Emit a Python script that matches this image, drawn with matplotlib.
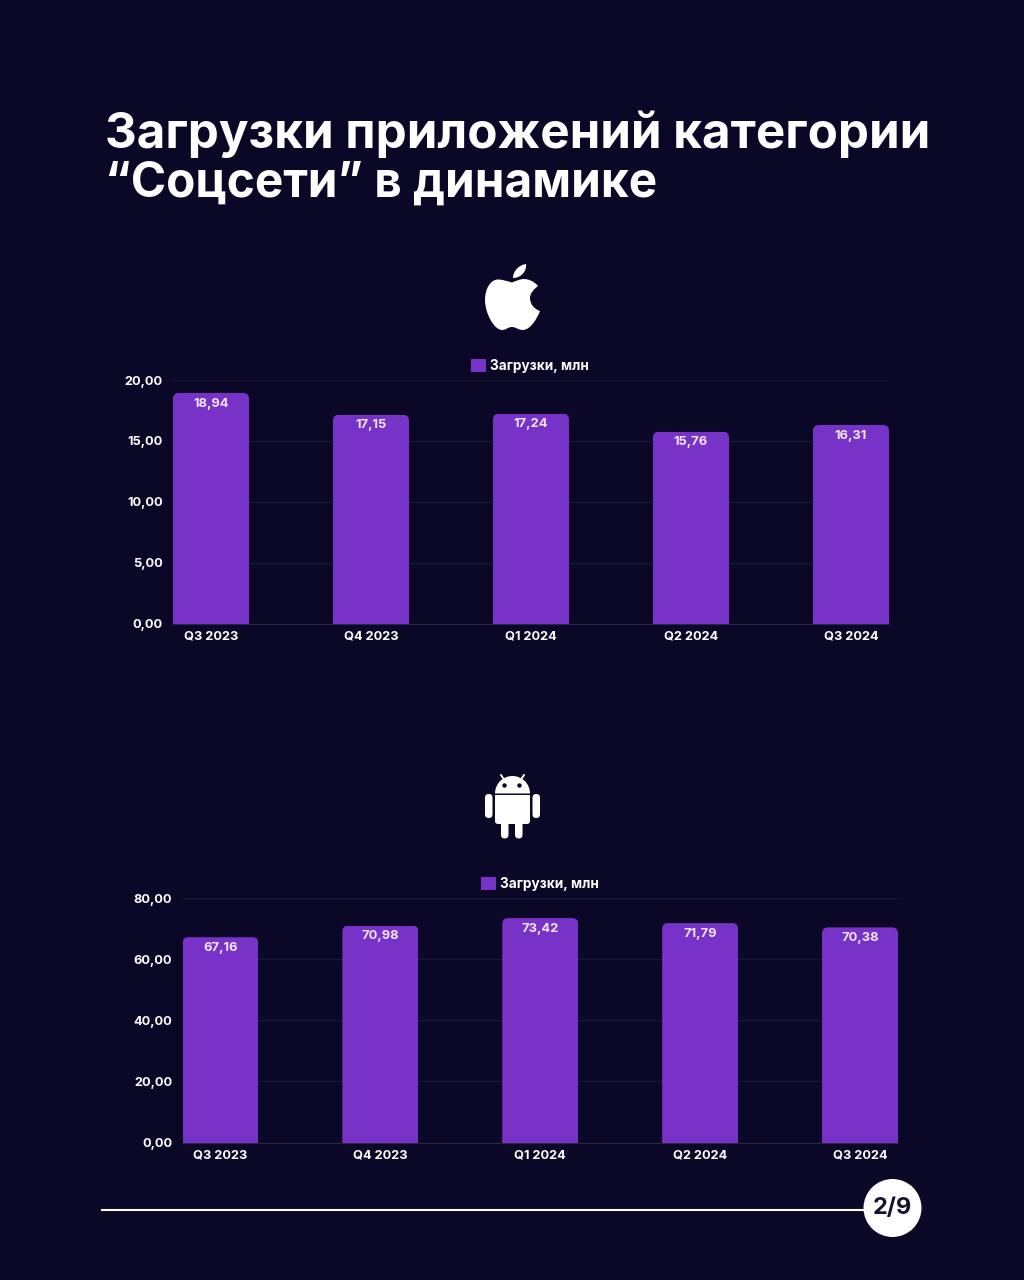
import matplotlib
matplotlib.use("Agg")
import matplotlib.pyplot as plt
from matplotlib.patches import Circle, FancyBboxPatch, PathPatch, Wedge
from matplotlib.path import Path
from matplotlib.transforms import IdentityTransform

quarters = ["Q3 2023", "Q4 2023", "Q1 2024", "Q2 2024", "Q3 2024"]
ios_downloads = [18.94, 17.15, 17.24, 15.76, 16.31]
android_downloads = [67.16, 70.98, 73.42, 71.79, 70.38]
ios_ticks = [0, 5, 10, 15, 20]
android_ticks = [0, 20, 40, 60, 80]
series_name = "Загрузки, млн"
title_lines = ["Загрузки приложений категории", "“Соцсети” в динамике"]
page = "2/9"

BG = "#0B0727"
BAR = "#7732C8"
GRID = "#1B1736"
W, H = 1024, 1280

plt.rcParams["font.family"] = ["Inter", "DejaVu Sans"]
plt.rcParams["font.weight"] = "bold"

fig = plt.figure(figsize=(W / 100, H / 100), dpi=100, facecolor=BG)


def comma(v):
    return f"{v:.2f}".replace(".", ",")


def draw_chart(left, right, top, bottom, values, ticks):
    ax = fig.add_axes([left / W, 1 - bottom / H, (right - left) / W, (bottom - top) / H])
    ax.set_facecolor(BG)
    bars = ax.bar(range(len(values)), values, width=0.475, color=BAR, label=series_name, zorder=3)
    ax.set_xlim(-0.2375, len(values) - 1 + 0.2375)
    ax.set_ylim(ticks[0], ticks[-1])
    ax.set_xticks(range(len(values)), quarters)
    ax.set_yticks(ticks, [comma(t) for t in ticks])
    ax.tick_params(length=0, labelsize=9.2, labelcolor="white", pad=5)
    ax.tick_params(axis="y", pad=7.5)
    ax.grid(axis="y", color=GRID, lw=1, zorder=0)
    for name, spine in ax.spines.items():
        spine.set_visible(name == "bottom")
        spine.set_color("#2A2648")
    fig.canvas.draw()
    # rounded top corners, bars stay in data coordinates
    for rect in bars:
        (x0, y0), (x1, y1) = ax.transData.transform(
            [(rect.get_x(), 0), (rect.get_x() + rect.get_width(), rect.get_height())]
        )
        r = 6
        clip = FancyBboxPatch((x0 + r, y0 - 20), x1 - x0 - 2 * r, y1 - y0 + 20 - r,
                              boxstyle=f"round,pad={r},rounding_size={r}",
                              transform=IdentityTransform())
        rect.set_clip_path(clip)
    ax.bar_label(bars, labels=[comma(v) for v in values], padding=-12,
                 color="#F3E6FA", fontsize=9.3, zorder=4)
    ax.legend(loc="lower center", bbox_to_anchor=(0.499, 1.03), frameon=False, fontsize=9.8,
              labelcolor="white", handlelength=1.1, handleheight=1.1, handletextpad=0.3,
              borderpad=0, borderaxespad=0)
    return ax


draw_chart(173, 889, 380, 623.5, ios_downloads, ios_ticks)
draw_chart(182.5, 898, 898, 1142.5, android_downloads, android_ticks)

# overlay in pixel coordinates for title, logos and footer
over = fig.add_axes([0, 0, 1, 1], facecolor="none")
over.set_xlim(0, W)
over.set_ylim(H, 0)
over.axis("off")

over.text(105, 134.5, title_lines[0], color="white", fontsize=35.5, fontweight="bold",
          va="center", ha="left")
over.text(105, 183.5, title_lines[1], color="white", fontsize=34.4, fontweight="bold",
          va="center", ha="left")

# apple logo
apple = Path(
    [(512, 282.5),
     (507, 281), (502, 279.5), (498, 279.5),
     (491, 279.5), (485, 288), (485, 300),
     (485, 313), (494, 330), (502, 330),
     (506, 330), (508, 327), (512, 327),
     (516, 327), (518, 330), (523, 330),
     (530, 330), (537, 319), (540, 311),
     (534, 309), (530, 304), (530, 298),
     (530, 293), (534, 289), (538, 286),
     (534, 281), (528, 279), (524, 279),
     (520, 279), (516, 281), (512, 282.5),
     (512, 282.5)],
    [Path.MOVETO] + [Path.CURVE4] * 30 + [Path.CLOSEPOLY],
)
over.add_patch(PathPatch(apple, fc="white", ec="none"))
leaf = Path([(513, 278), (513, 271), (519, 265), (526, 264), (527, 271), (521, 278), (513, 278), (513, 278)],
            [Path.MOVETO] + [Path.CURVE4] * 6 + [Path.CLOSEPOLY])
over.add_patch(PathPatch(leaf, fc="white", ec="none"))

# android logo
over.add_patch(Wedge((512.5, 793.5), 17.5, 180, 360, fc="white", ec="none"))
over.add_patch(Circle((504.5, 785.5), 2.2, fc=BG, ec="none"))
over.add_patch(Circle((519.5, 785.5), 2.2, fc=BG, ec="none"))
over.plot([501, 505], [775, 781], color="white", lw=1.3)
over.plot([524, 520], [775, 781], color="white", lw=1.3)
over.add_patch(FancyBboxPatch((495, 795), 35, 29, boxstyle="round,pad=0,rounding_size=3", fc="white", ec="none"))
over.add_patch(plt.Rectangle((495, 795), 35, 10, fc="white", ec="none"))
for x, y, w, h in [(485, 794, 7.5, 24), (532.5, 794, 7.5, 24), (501, 818, 7.5, 20.5), (515, 818, 7.5, 20.5)]:
    r = w / 2
    over.add_patch(FancyBboxPatch((x, y), w, h, boxstyle=f"round,pad=0,rounding_size={r}",
                                  fc="white", ec="none"))

# footer
over.plot([102, 870], [1209.5, 1209.5], color="white", lw=1.5)
over.add_patch(Circle((892.5, 1208), 29, fc="white", ec="none", zorder=3))
over.text(892.5, 1208, page, color="#14102E", fontsize=17, fontweight="bold",
          ha="center", va="center", zorder=4)

fig.savefig("out.png", dpi=100, facecolor=BG)
